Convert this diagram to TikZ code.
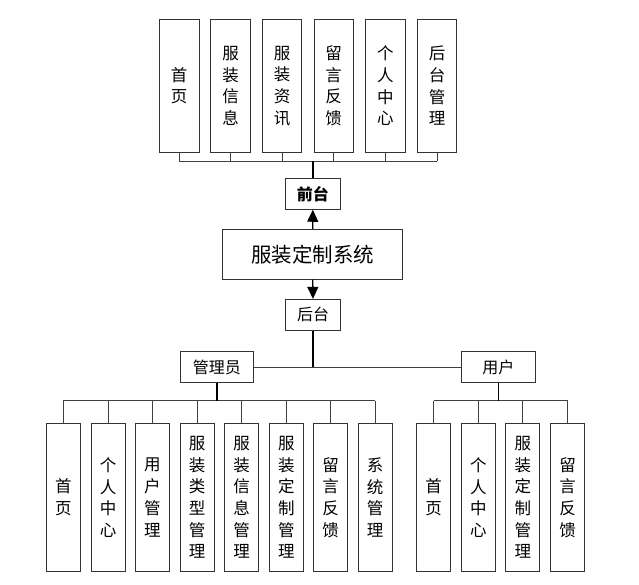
\documentclass[tikz,border=0pt]{standalone}
\usepackage{fontspec}
\setmainfont{Noto Sans CJK SC}
\usetikzlibrary{arrows.meta}
\tikzset{
  box/.style={draw=black!80, line width=0.9pt, fill=white, inner sep=0pt, align=center},
  tallA/.style={box, minimum width=39.5pt, minimum height=133pt, font=\fontsize{16.5}{21.7}\selectfont},
  tallB/.style={box, minimum width=34pt, minimum height=147.6pt, font=\fontsize{16.5}{21.7}\selectfont},
  small/.style={box, minimum height=31pt, font=\fontsize{16}{19}\selectfont},
  conn/.style={draw=black!75, line width=0.9pt},
  trunk/.style={draw=black, line width=1.4pt},
  arr/.style={trunk, -{Triangle[length=12pt,width=11pt]}}
}
\begin{document}
\begin{tikzpicture}[x=1pt,y=-1pt]
\useasboundingbox[fill=white] (0,0) rectangle (639,584);
% top row
\node[tallA] (t1) at (179.2,85.8) {首\\页};
\node[tallA] (t2) at (230.5,85.8) {服\\装\\信\\息};
\node[tallA] (t3) at (282.1,85.8) {服\\装\\资\\讯};
\node[tallA] (t4) at (333.7,85.8) {留\\言\\反\\馈};
\node[tallA] (t5) at (385.3,85.8) {个\\人\\中\\心};
\node[tallA] (t6) at (437.0,85.8) {后\\台\\管\\理};
\node[small, minimum width=55.7pt, font=\fontsize{16}{19}\selectfont\bfseries] (front) at (312.8,193.8) {前台};
\node[box, minimum width=180pt, minimum height=49.7pt, font=\fontsize{20.5}{24}\selectfont] (sys) at (312.7,254.2) {服装定制系统};
\node[small, minimum width=55.4pt] (back) at (313,314.8) {后台};
\node[small, minimum width=73.7pt] (admin) at (216.8,367) {管理员};
\node[small, minimum width=73.3pt] (user) at (498.3,367) {用户};
% admin children
\node[tallB] (a1) at (63.3,497.5) {首\\页};
\node[tallB] (a2) at (108.0,497.5) {个\\人\\中\\心};
\node[tallB] (a3) at (152.3,497.5) {用\\户\\管\\理};
\node[tallB] (a4) at (197.1,497.5) {服\\装\\类\\型\\管\\理};
\node[tallB] (a5) at (241.7,497.5) {服\\装\\信\\息\\管\\理};
\node[tallB] (a6) at (286.3,497.5) {服\\装\\定\\制\\管\\理};
\node[tallB] (a7) at (330.7,497.5) {留\\言\\反\\馈};
\node[tallB] (a8) at (375.2,497.5) {系\\统\\管\\理};
% user children
\node[tallB] (u1) at (433.7,497.5) {首\\页};
\node[tallB] (u2) at (478.3,497.5) {个\\人\\中\\心};
\node[tallB] (u3) at (522.9,497.5) {服\\装\\定\\制\\管\\理};
\node[tallB] (u4) at (567.5,497.5) {留\\言\\反\\馈};
% bus coordinates
\coordinate (tb) at (312.8,161.3);
\coordinate (ab) at (216.8,400.7);
\coordinate (ub) at (498.3,400.7);
% top connectors
\foreach \n in {t1,t2,t3,t4,t5,t6} \draw[conn] (\n.south) -- (\n.south |- tb);
\draw[conn] (t1.south |- tb) -- (t6.south |- tb);
\draw[trunk] (front.north) -- (tb);
\draw[arr] (sys.north) -- (front.south);
\draw[arr] (sys.south) -- (back.north);
% back to roles
\draw[conn] (admin.east) -- (user.west);
\draw[trunk] (back.south) -- (back.south |- admin.east);
% admin bus
\foreach \n in {a1,a2,a3,a4,a5,a6,a7,a8} \draw[conn] (\n.north) -- (\n.north |- ab);
\draw[conn] (a1.north |- ab) -- (a8.north |- ab);
\draw[trunk] (admin.south) -- (ab);
% user bus
\foreach \n in {u1,u2,u3,u4} \draw[conn] (\n.north) -- (\n.north |- ub);
\draw[conn] (u1.north |- ub) -- (u4.north |- ub);
\draw[trunk] (user.south) -- (ub);
\end{tikzpicture}
\end{document}
